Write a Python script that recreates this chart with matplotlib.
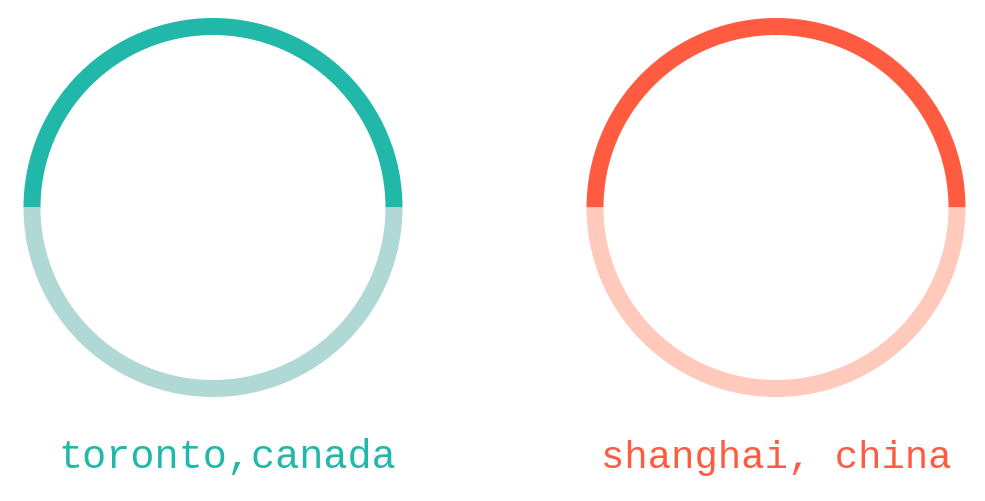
import matplotlib.pyplot as plt

cities = ['toronto,canada', 'shanghai, china']
values = [[50, 50], [50, 50]]
colors = [['#22b8a9', '#b0d9d5'], ['#ff5b41', '#ffc9bc']]
centers_px = [213, 776]
label_x_px = [227, 776]
label_size = [29, 28]

W, H = 985, 502
fig = plt.figure(figsize=(W / 100, H / 100), dpi=100)

r_px = 189.5
cy_px = 208.5
for vals, cols, cx, lx, fs, name in zip(values, colors, centers_px, label_x_px, label_size, cities):
    ax = fig.add_axes([(cx - r_px) / W, (H - cy_px - r_px) / H, 2 * r_px / W, 2 * r_px / H])
    ax.pie(vals, colors=cols, startangle=0, counterclock=True, radius=1,
           wedgeprops=dict(width=17 / r_px, linewidth=0))
    ax.set_xlim(-1, 1)
    ax.set_ylim(-1, 1)
    ax.axis('off')
    fig.text(lx / W, 1 - 468 / H, name, ha='center', va='baseline',
             fontsize=fs, family='Liberation Mono', color=cols[0])

fig.savefig('out.png', dpi=100)
